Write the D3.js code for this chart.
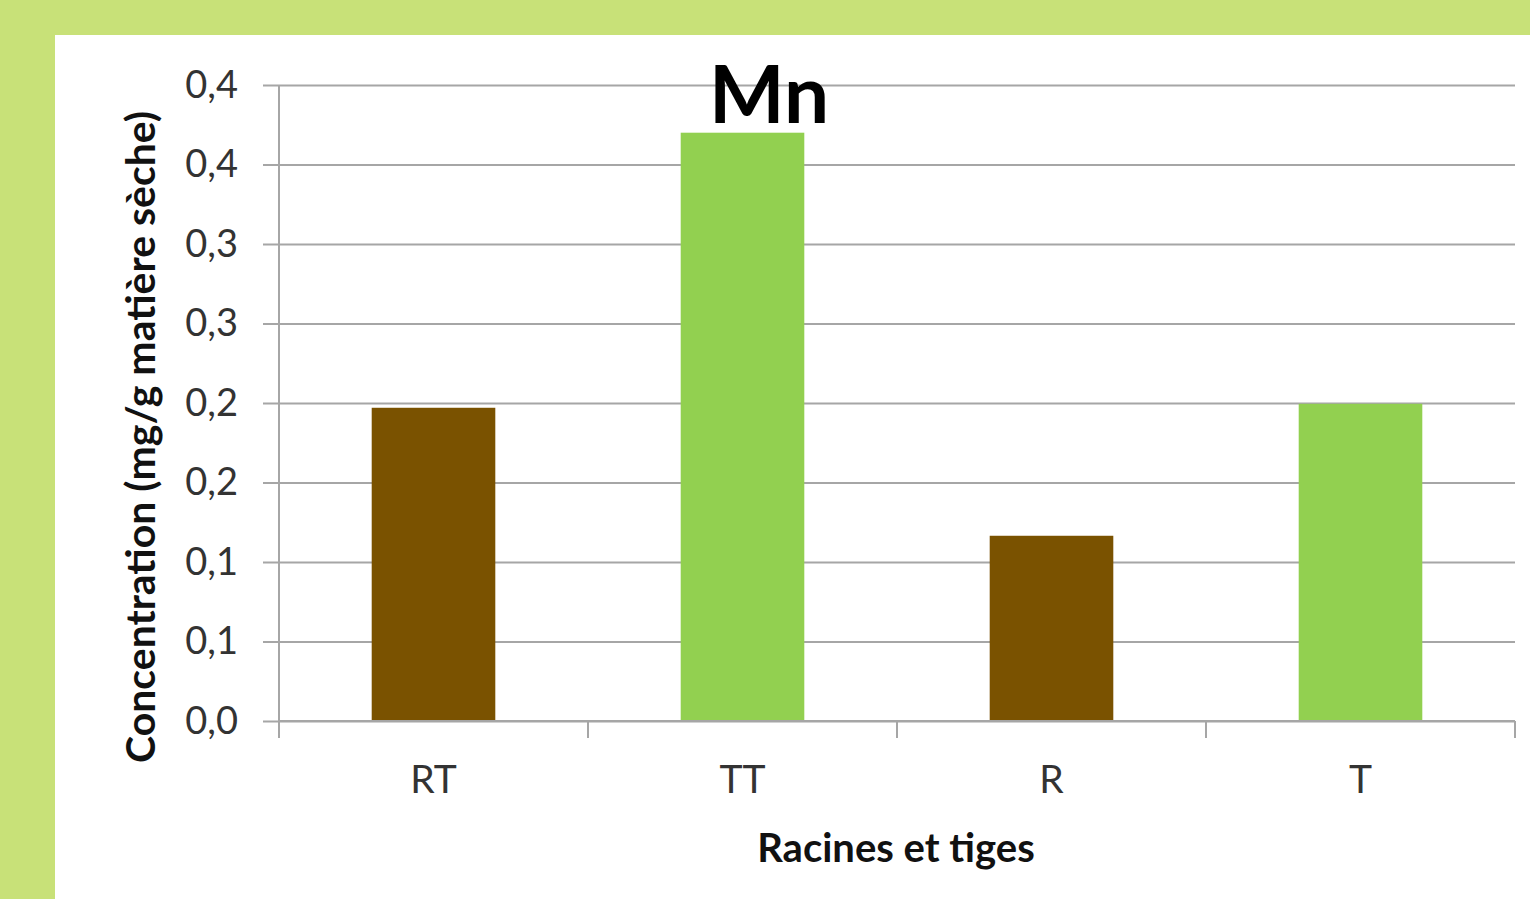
<!DOCTYPE html>
<html>
<head>
<meta charset="utf-8">
<script src="https://cdn.jsdelivr.net/npm/d3@7"></script>
<style>
  html, body { margin: 0; padding: 0; background: #c8e178; }
  svg { display: block; }
  text { font-family: Lato, "Open Sans", sans-serif; }
</style>
</head>
<body>
<div id="chart"></div>
<script>
// data
const categories = ['RT', 'TT', 'R', 'T'];
const values = [0.197, 0.37, 0.1165, 0.1995];
const barColors = ['#7a5200', '#92d050', '#7a5200', '#92d050'];
const tickValues = [0, 0.05, 0.1, 0.15, 0.2, 0.25, 0.3, 0.35, 0.4];
const tickLabels = ['0,0', '0,1', '0,1', '0,2', '0,2', '0,3', '0,3', '0,4', '0,4'];

const svgWidth = 1530,
  svgHeight = 899;
const margin = { top: 85, right: 15, bottom: 178, left: 279 };
const width = svgWidth - margin.left - margin.right;
const height = svgHeight - margin.top - margin.bottom;

const root = d3
  .select('#chart')
  .append('svg')
  .attr('width', svgWidth)
  .attr('height', svgHeight);

// green frame + white panel
root.append('rect')
  .attr('width', svgWidth).attr('height', svgHeight)
  .attr('fill', '#c8e178');
root.append('rect')
  .attr('x', 55).attr('y', 35)
  .attr('width', svgWidth - 55).attr('height', svgHeight - 35)
  .attr('fill', '#ffffff');

const svg = root
  .append('g')
  .attr('transform', `translate(${margin.left},${margin.top})`);

const x = d3
  .scaleBand()
  .domain(categories)
  .range([0, width])
  .paddingInner(0.6)
  .paddingOuter(0.3);

const y = d3.scaleLinear().domain([0, 0.4]).range([height, 0]);

const gridColor = '#a6a6a6';

// gridlines + y axis
const yAxis = svg
  .append('g')
  .call(
    d3.axisLeft(y)
      .tickValues(tickValues)
      .tickSize(-width)
      .tickFormat((d, i) => tickLabels[i]),
  );
yAxis.select('.domain').remove();
yAxis.selectAll('.tick line')
  .attr('x1', -16)
  .attr('stroke', gridColor)
  .attr('stroke-width', 2);
yAxis.selectAll('.tick text')
  .attr('x', -41)
  .attr('fill', '#333')
  .style('font-size', '38px');

svg.append('line')
  .attr('x1', 0).attr('x2', 0)
  .attr('y1', y(0.4)).attr('y2', height)
  .attr('stroke', gridColor)
  .attr('stroke-width', 2);

// bars
svg
  .selectAll('.bar')
  .data(values)
  .enter()
  .append('rect')
  .attr('class', 'bar')
  .attr('x', (d, i) => x(categories[i]))
  .attr('y', (d) => y(d))
  .attr('width', x.bandwidth())
  .attr('height', (d) => height - y(d))
  .attr('fill', (d, i) => barColors[i]);

// x axis
const xAxis = svg
  .append('g')
  .attr('transform', `translate(0,${height})`)
  .call(d3.axisBottom(x).tickSize(0));
xAxis.select('.domain')
  .attr('stroke', gridColor)
  .attr('stroke-width', 2)
  .attr('d', `M0,0H${width}`);
xAxis.selectAll('.tick text')
  .attr('y', 72)
  .attr('dy', 0)
  .attr('fill', '#333')
  .style('font-size', '39px');

// category separators on x axis
const step = x.step();
const bounds = d3.range(categories.length + 1).map((i) => i * step);
xAxis.selectAll('.sep')
  .data(bounds)
  .enter()
  .append('line')
  .attr('class', 'sep')
  .attr('x1', (d) => d).attr('x2', (d) => d)
  .attr('y1', 0).attr('y2', 17)
  .attr('stroke', gridColor)
  .attr('stroke-width', 2);

// title
root.append('text')
  .attr('x', 769)
  .attr('y', 123)
  .attr('text-anchor', 'middle')
  .style('font-size', '80px')
  .style('font-weight', 'bold')
  .attr('fill', '#000')
  .text('Mn');

// axis titles
root.append('text')
  .attr('x', 896)
  .attr('y', 862)
  .attr('text-anchor', 'middle')
  .style('font-size', '40px')
  .style('font-weight', 'bold')
  .attr('fill', '#111')
  .text('Racines et tiges');

root.append('text')
  .attr('transform', 'translate(155,437) rotate(-90)')
  .attr('text-anchor', 'middle')
  .style('font-size', '41px')
  .style('font-weight', 'bold')
  .attr('fill', '#111')
  .text('Concentration (mg/g matière sèche)');
</script>
</body>
</html>
